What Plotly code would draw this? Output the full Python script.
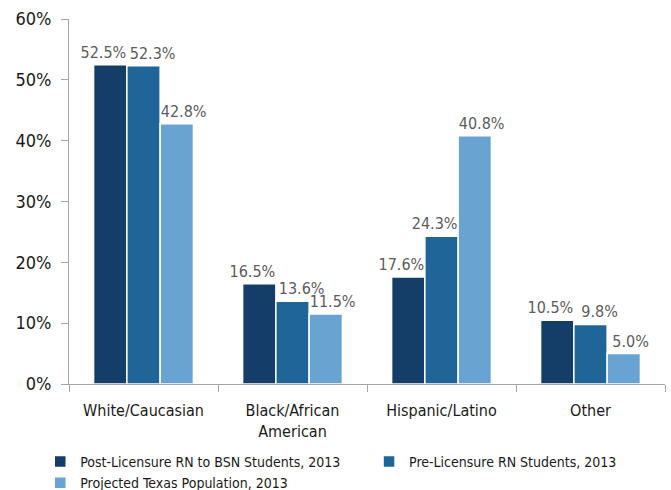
import plotly.graph_objects as go

categories = ["White/Caucasian", "Black/African<br>American", "Hispanic/Latino", "Other"]
post_licensure = [52.5, 16.5, 17.6, 10.5]
pre_licensure = [52.3, 13.6, 24.3, 9.8]
texas_pop = [42.8, 11.5, 40.8, 5.0]

NB = "\u00a0"
FONT = "DejaVu Sans Condensed"


def labels(vals, pads):
    return [f"{pre}{v:.1f}%{post}" for v, (pre, post) in zip(vals, pads)]


# label nudges: first series leans left, the others lean right, except where
# the next bar is taller and would cover the label, then it leans left instead
pads_post = [("", NB * 3)] * len(categories)
pads_pre = [
    (NB * 4, "") if t <= p else ("", NB * 3)
    for p, t in zip(pre_licensure, texas_pop)
]
pads_tex = [(NB * 3, "")] * len(categories)

series = [
    ("Post-Licensure RN to BSN Students, 2013", post_licensure, "#143E68", "legend", pads_post),
    ("Pre-Licensure RN Students, 2013", pre_licensure, "#1F6597", "legend2", pads_pre),
    ("Projected Texas Population, 2013", texas_pop, "#69A3D1", "legend", pads_tex),
]

fig = go.Figure()
for name, vals, color, leg, pads in series:
    fig.add_trace(go.Bar(
        name=name,
        x=categories,
        y=vals,
        legend=leg,
        marker=dict(color=color, line=dict(color="white", width=1.5)),
        text=labels(vals, pads),
        textposition="outside",
        constraintext="none",
        textfont=dict(family=FONT, size=16, color="#5c5c5c"),
        cliponaxis=False,
    ))

fig.update_layout(
    width=671,
    height=490,
    barmode="group",
    bargap=0.33,
    bargroupgap=0,
    plot_bgcolor="white",
    paper_bgcolor="white",
    # autoexpand off so the two legend boxes don't squeeze the plot area
    margin=dict(t=19, b=106, l=69, r=6, autoexpand=False),
    font=dict(family=FONT, color="#1a1a1a"),
    uniformtext=dict(minsize=16, mode="show"),
    showlegend=True,
    legend=dict(
        orientation="v",
        x=0.06,
        xref="container",
        xanchor="left",
        y=0.09,
        yref="container",
        yanchor="top",
        font=dict(family=FONT, size=14, color="#1a1a1a"),
        itemwidth=30,
        tracegroupgap=0,
        traceorder="normal",
        bgcolor="rgba(0,0,0,0)",
    ),
    legend2=dict(
        orientation="v",
        x=0.55,
        xref="container",
        xanchor="left",
        y=0.09,
        yref="container",
        yanchor="top",
        font=dict(family=FONT, size=14, color="#1a1a1a"),
        itemwidth=30,
        bgcolor="rgba(0,0,0,0)",
    ),
    xaxis=dict(
        showline=True,
        linecolor="#a6a6a6",
        linewidth=1,
        ticks="outside",
        tickson="boundaries",
        tickcolor="#a6a6a6",
        ticklen=7,
        ticklabelstandoff=12,
        automargin=False,
        tickfont=dict(family=FONT, size=16, color="#1a1a1a"),
    ),
    yaxis=dict(
        range=[0, 60],
        dtick=10,
        ticksuffix="%",
        showgrid=False,
        zeroline=False,
        showline=True,
        linecolor="#a6a6a6",
        linewidth=1,
        ticks="outside",
        tickcolor="#a6a6a6",
        ticklen=7,
        ticklabelstandoff=6,
        automargin=False,
        tickfont=dict(family=FONT, size=18, color="#1a1a1a"),
    ),
)

# drop the browser's default body margin so the figure sits at the page corner
fig.write_html(
    "out.html",
    config={"displayModeBar": False},
    post_script="document.body.style.margin='0';",
)
